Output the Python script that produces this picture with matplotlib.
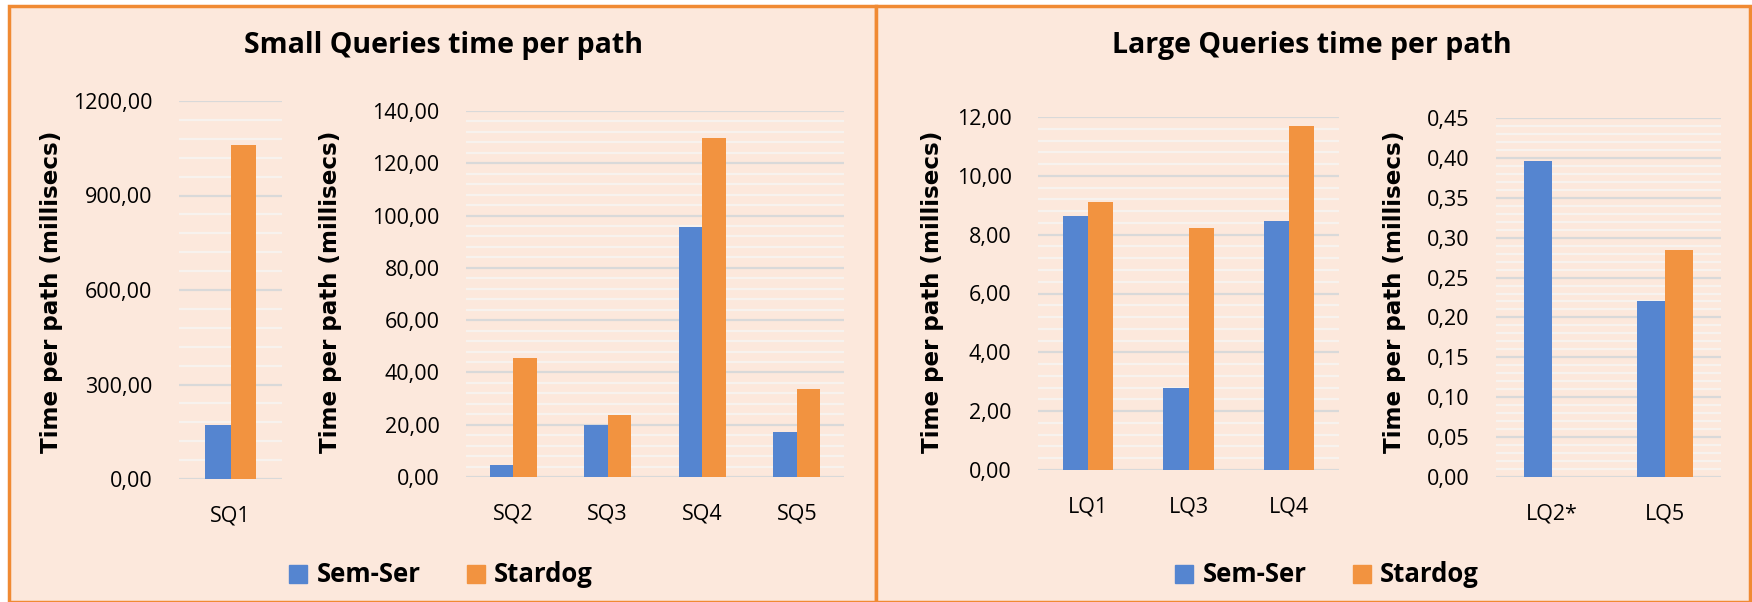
import numpy as np
import matplotlib.pyplot as plt
from matplotlib.patches import Rectangle, Patch
from matplotlib.ticker import MultipleLocator, FuncFormatter

# values
sq1_labels = ["SQ1"]
sq1_semser = [172.0]
sq1_stardog = [1059.0]

sq_labels = ["SQ2", "SQ3", "SQ4", "SQ5"]
sq_semser = [4.6, 19.7, 95.7, 17.1]
sq_stardog = [45.7, 23.7, 129.7, 33.7]

lq_labels = ["LQ1", "LQ3", "LQ4"]
lq_semser = [8.62, 2.78, 8.45]
lq_stardog = [9.10, 8.24, 11.69]

lq2_labels = ["LQ2*", "LQ5"]
lq2_semser = [0.396, 0.221]
lq2_stardog = [np.nan, 0.285]

series_names = ["Sem-Ser", "Stardog"]

BLUE = "#5585D0"
ORANGE = "#F29340"
BG = "#FCE8DC"
EDGE = "#F08A33"
TICK_FONT = ["Open Sans", "DejaVu Sans"]
W, H = 1752, 602


def comma_fmt(decimals):
    return FuncFormatter(lambda v, p: f"{v:.{decimals}f}".replace(".", ","))


def bar_panel(ax, labels, a, b, ymax, major, minor, decimals):
    x = np.arange(len(labels))
    w = 0.25
    ax.bar(x - w / 2, a, w, color=BLUE, zorder=3)
    ax.bar(x + w / 2, b, w, color=ORANGE, zorder=3)
    ax.set_xlim(-0.5, len(labels) - 0.5)
    ax.set_ylim(0, ymax)
    ax.set_xticks(x)
    ax.set_xticklabels(labels)
    ax.yaxis.set_major_locator(MultipleLocator(major))
    ax.yaxis.set_minor_locator(MultipleLocator(minor))
    ax.yaxis.set_major_formatter(comma_fmt(decimals))
    ax.grid(axis="y", which="major", color="#D9D9D9", lw=1.6, zorder=0)
    ax.grid(axis="y", which="minor", color="#F7F2EE", lw=1.6, zorder=0)
    ax.set_facecolor("none")
    for s in ax.spines.values():
        s.set_visible(False)
    ax.tick_params(which="both", length=0, pad=19, labelsize=15.5)
    for t in ax.get_xticklabels() + ax.get_yticklabels():
        t.set_family(TICK_FONT)


def px_axes(fig, x0, x1, ytop, ybot):
    return fig.add_axes([x0 / W, 1 - ybot / H, (x1 - x0) / W, (ybot - ytop) / H])


fig = plt.figure(figsize=(W / 100, H / 100), dpi=100, facecolor="white")

# panel backgrounds with orange frame
for x0, x1 in [(9, 876), (876, 1750)]:
    fig.patches.append(Rectangle((x0 / W, 0), (x1 - x0) / W, 1 - 6 / H,
                                 transform=fig.transFigure, facecolor=BG,
                                 edgecolor=EDGE, lw=2.5, zorder=-10))

ax1 = px_axes(fig, 179, 282, 101, 479)
bar_panel(ax1, sq1_labels, sq1_semser, sq1_stardog, 1200, 300, 60, 2)
ax2 = px_axes(fig, 466, 844, 111, 477)
bar_panel(ax2, sq_labels, sq_semser, sq_stardog, 140, 20, 4, 2)
ax3 = px_axes(fig, 1038, 1339, 117, 470)
bar_panel(ax3, lq_labels, lq_semser, lq_stardog, 12, 2, 0.4, 2)
ax4 = px_axes(fig, 1496, 1721, 118, 477)
bar_panel(ax4, lq2_labels, lq2_semser, lq2_stardog, 0.45, 0.05, 0.01, 2)

for xp in [52, 331, 932, 1394]:
    fig.text(xp / W, 1 - 292 / H, "Time per path (millisecs)", rotation=90,
             ha="center", va="center", fontsize=16.6, fontweight="bold",
             family="DejaVu Sans")

fig.text(444 / W, 1 - 46 / H, "Small Queries time per path", ha="center", va="center",
         fontsize=20.5, fontweight="bold", family=TICK_FONT)
fig.text(1312 / W, 1 - 46 / H, "Large Queries time per path", ha="center", va="center",
         fontsize=20.5, fontweight="bold", family=TICK_FONT)

handles = [Patch(color=BLUE), Patch(color=ORANGE)]
for xc in [441, 1327]:
    fig.legend(handles, series_names, loc="center", bbox_to_anchor=(xc / W, 1 - 575 / H),
               ncol=2, frameon=False, handlelength=0.7, handleheight=0.7,
               handletextpad=0.35, columnspacing=1.8,
               prop={"family": TICK_FONT, "weight": "bold", "size": 18.5})

fig.savefig("out.png", dpi=100, facecolor="white")
